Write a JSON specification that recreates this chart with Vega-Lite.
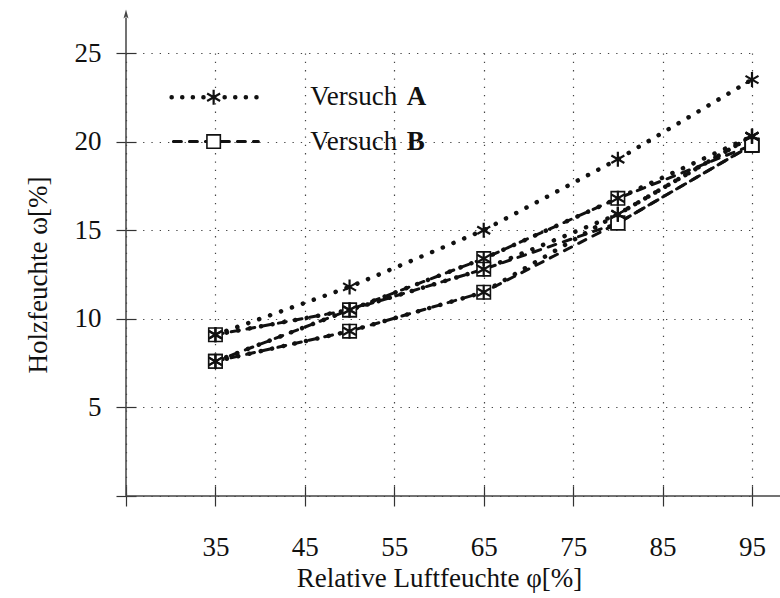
{
  "$schema": "https://vega.github.io/schema/vega-lite/v6.json",
  "width": 626,
  "height": 443,
  "autosize": {"type": "none"},
  "padding": {"left": 126, "top": 53, "right": 28, "bottom": 102},
  "background": "white",
  "config": {"view": {"stroke": null}, "font": "Liberation Serif"},
  "datasets": {
    "messung": [
      {"versuch": "A", "reihe": "A1", "phi": 35, "omega": 9.1},
      {"versuch": "A", "reihe": "A1", "phi": 50, "omega": 11.8},
      {"versuch": "A", "reihe": "A1", "phi": 65, "omega": 15.0},
      {"versuch": "A", "reihe": "A1", "phi": 80, "omega": 19.0},
      {"versuch": "A", "reihe": "A1", "phi": 95, "omega": 23.5},
      {"versuch": "A", "reihe": "A2", "phi": 35, "omega": 9.1},
      {"versuch": "A", "reihe": "A2", "phi": 50, "omega": 10.5},
      {"versuch": "A", "reihe": "A2", "phi": 65, "omega": 13.4},
      {"versuch": "A", "reihe": "A2", "phi": 80, "omega": 16.8},
      {"versuch": "A", "reihe": "A2", "phi": 95, "omega": 20.3},
      {"versuch": "A", "reihe": "A3", "phi": 35, "omega": 7.6},
      {"versuch": "A", "reihe": "A3", "phi": 50, "omega": 9.3},
      {"versuch": "A", "reihe": "A3", "phi": 65, "omega": 11.5},
      {"versuch": "A", "reihe": "A3", "phi": 80, "omega": 15.9},
      {"versuch": "A", "reihe": "A3", "phi": 95, "omega": 20.3},
      {"versuch": "A", "reihe": "A4", "phi": 35, "omega": 7.6},
      {"versuch": "A", "reihe": "A4", "phi": 50, "omega": 10.5},
      {"versuch": "A", "reihe": "A4", "phi": 65, "omega": 12.8},
      {"versuch": "A", "reihe": "A4", "phi": 80, "omega": 15.9},
      {"versuch": "A", "reihe": "A4", "phi": 95, "omega": 20.3},
      {"versuch": "B", "reihe": "B1", "phi": 35, "omega": 9.1},
      {"versuch": "B", "reihe": "B1", "phi": 50, "omega": 10.5},
      {"versuch": "B", "reihe": "B1", "phi": 65, "omega": 13.4},
      {"versuch": "B", "reihe": "B1", "phi": 80, "omega": 16.8},
      {"versuch": "B", "reihe": "B1", "phi": 95, "omega": 19.8},
      {"versuch": "B", "reihe": "B2", "phi": 35, "omega": 7.6},
      {"versuch": "B", "reihe": "B2", "phi": 50, "omega": 10.5},
      {"versuch": "B", "reihe": "B2", "phi": 65, "omega": 12.8},
      {"versuch": "B", "reihe": "B2", "phi": 80, "omega": 15.4},
      {"versuch": "B", "reihe": "B2", "phi": 95, "omega": 19.8},
      {"versuch": "B", "reihe": "B3", "phi": 35, "omega": 7.6},
      {"versuch": "B", "reihe": "B3", "phi": 50, "omega": 9.3},
      {"versuch": "B", "reihe": "B3", "phi": 65, "omega": 11.5},
      {"versuch": "B", "reihe": "B3", "phi": 80, "omega": 15.4},
      {"versuch": "B", "reihe": "B3", "phi": 95, "omega": 19.8}
    ],
    "eins": [{}]
  },
  "layer": [
    {
      "data": {"name": "messung"},
      "transform": [{"filter": "datum.versuch == 'B'"}],
      "mark": {"type": "line", "color": "#111", "strokeWidth": 3, "strokeDash": [8, 8], "strokeCap": "round"},
      "encoding": {
        "x": {
          "field": "phi", "type": "quantitative",
          "scale": {"domain": [25, 95], "nice": false, "zero": false},
          "axis": {
            "title": "Relative Luftfeuchte φ[%]",
            "values": [25, 35, 45, 55, 65, 75, 85, 95],
            "labelExpr": "datum.value == 25 ? '' : datum.label",
            "offset": -10, "tickSize": 20, "tickColor": "#333", "tickWidth": 1.2,
            "domain": false,
            "grid": true, "gridColor": "#444", "gridDash": [1.3, 7], "gridWidth": 1.2,
            "labelFont": "Liberation Serif", "labelFontSize": 27, "labelColor": "#111",
            "labelPadding": 28, "labelFlush": false, "labelOverlap": false,
            "titleFont": "Liberation Serif", "titleFontSize": 27, "titleFontWeight": "normal",
            "titleColor": "#111", "titlePadding": 5
          }
        },
        "y": {
          "field": "omega", "type": "quantitative",
          "scale": {"domain": [0, 25], "nice": false, "zero": false},
          "axis": {
            "title": "Holzfeuchte ω[%]",
            "values": [0, 5, 10, 15, 20, 25],
            "labelExpr": "datum.value == 0 ? '' : datum.label",
            "offset": -10, "tickSize": 20, "tickColor": "#333", "tickWidth": 1.2,
            "domain": false,
            "grid": true, "gridColor": "#444", "gridDash": [1.3, 7], "gridWidth": 1.2,
            "labelFont": "Liberation Serif", "labelFontSize": 27, "labelColor": "#111",
            "labelPadding": 15, "labelOverlap": false,
            "titleFont": "Liberation Serif", "titleFontSize": 27, "titleFontWeight": "normal",
            "titleColor": "#111", "titlePadding": 22
          }
        },
        "detail": {"field": "reihe"}
      }
    },
    {
      "data": {"name": "messung"},
      "transform": [{"filter": "datum.versuch == 'A'"}],
      "mark": {"type": "line", "color": "#111", "strokeWidth": 4.5, "strokeDash": [0.1, 11.5], "strokeCap": "round"},
      "encoding": {
        "x": {"field": "phi", "type": "quantitative"},
        "y": {"field": "omega", "type": "quantitative"},
        "detail": {"field": "reihe"}
      }
    },
    {
      "data": {"name": "messung"},
      "transform": [{"filter": "datum.versuch == 'B'"}],
      "mark": {"type": "point", "shape": "square", "filled": true, "fill": "white", "stroke": "#111", "strokeWidth": 1.6, "size": 180, "opacity": 1},
      "encoding": {
        "x": {"field": "phi", "type": "quantitative"},
        "y": {"field": "omega", "type": "quantitative"}
      }
    },
    {
      "data": {"name": "messung"},
      "transform": [{"filter": "datum.versuch == 'A'"}],
      "mark": {"type": "point", "shape": "M0,-1L0,1M-0.866,-0.5L0.866,0.5M-0.866,0.5L0.866,-0.5", "filled": false, "stroke": "#111", "strokeWidth": 2.2, "size": 225, "opacity": 1},
      "encoding": {
        "x": {"field": "phi", "type": "quantitative"},
        "y": {"field": "omega", "type": "quantitative"}
      }
    },
    {
      "data": {"name": "eins"},
      "mark": {"type": "rule", "color": "#444", "strokeWidth": 1.5},
      "encoding": {
        "x": {"datum": 25, "type": "quantitative"},
        "x2": {"datum": 98.3},
        "y": {"datum": 0, "type": "quantitative"}
      }
    },
    {
      "data": {"name": "eins"},
      "mark": {"type": "rule", "color": "#444", "strokeWidth": 1.5},
      "encoding": {
        "x": {"datum": 25, "type": "quantitative"},
        "y": {"datum": 0, "type": "quantitative"},
        "y2": {"datum": 27.0}
      }
    },
    {
      "data": {"name": "eins"},
      "mark": {"type": "point", "shape": "M0,-1L0.55,1L0,0.55L-0.55,1Z", "filled": true, "color": "#444", "size": 81, "opacity": 1},
      "encoding": {
        "x": {"datum": 25, "type": "quantitative"},
        "y": {"datum": 27.2, "type": "quantitative"}
      }
    },
    {
      "data": {"name": "eins"},
      "mark": {"type": "rule", "color": "#111", "strokeWidth": 4.5, "strokeDash": [0.1, 10.5], "strokeCap": "round"},
      "encoding": {
        "x": {"datum": 30.1, "type": "quantitative"},
        "x2": {"datum": 39.8},
        "y": {"datum": 22.5, "type": "quantitative"}
      }
    },
    {
      "data": {"name": "eins"},
      "mark": {"type": "rule", "color": "#111", "strokeWidth": 3, "strokeDash": [8, 8], "strokeCap": "round"},
      "encoding": {
        "x": {"datum": 30.3, "type": "quantitative"},
        "x2": {"datum": 39.8},
        "y": {"datum": 20, "type": "quantitative"}
      }
    },
    {
      "data": {"name": "eins"},
      "mark": {"type": "point", "shape": "square", "filled": true, "fill": "white", "stroke": "#111", "strokeWidth": 1.6, "size": 180, "opacity": 1},
      "encoding": {
        "x": {"datum": 34.8, "type": "quantitative"},
        "y": {"datum": 20, "type": "quantitative"}
      }
    },
    {
      "data": {"name": "eins"},
      "mark": {"type": "point", "shape": "M0,-1L0,1M-0.866,-0.5L0.866,0.5M-0.866,0.5L0.866,-0.5", "filled": false, "stroke": "#111", "strokeWidth": 2.2, "size": 225, "opacity": 1},
      "encoding": {
        "x": {"datum": 34.8, "type": "quantitative"},
        "y": {"datum": 22.5, "type": "quantitative"}
      }
    },
    {
      "data": {"name": "eins"},
      "mark": {"type": "text", "text": "Versuch", "font": "Liberation Serif", "fontSize": 27, "align": "left", "baseline": "middle", "color": "#111"},
      "encoding": {
        "x": {"datum": 45.6, "type": "quantitative"},
        "y": {"datum": 22.5, "type": "quantitative"}
      }
    },
    {
      "data": {"name": "eins"},
      "mark": {"type": "text", "text": "A", "font": "Liberation Serif", "fontSize": 27, "fontWeight": "bold", "align": "left", "baseline": "middle", "color": "#111"},
      "encoding": {
        "x": {"datum": 56.4, "type": "quantitative"},
        "y": {"datum": 22.5, "type": "quantitative"}
      }
    },
    {
      "data": {"name": "eins"},
      "mark": {"type": "text", "text": "Versuch", "font": "Liberation Serif", "fontSize": 27, "align": "left", "baseline": "middle", "color": "#111"},
      "encoding": {
        "x": {"datum": 45.6, "type": "quantitative"},
        "y": {"datum": 20, "type": "quantitative"}
      }
    },
    {
      "data": {"name": "eins"},
      "mark": {"type": "text", "text": "B", "font": "Liberation Serif", "fontSize": 27, "fontWeight": "bold", "align": "left", "baseline": "middle", "color": "#111"},
      "encoding": {
        "x": {"datum": 56.4, "type": "quantitative"},
        "y": {"datum": 20, "type": "quantitative"}
      }
    }
  ]
}
